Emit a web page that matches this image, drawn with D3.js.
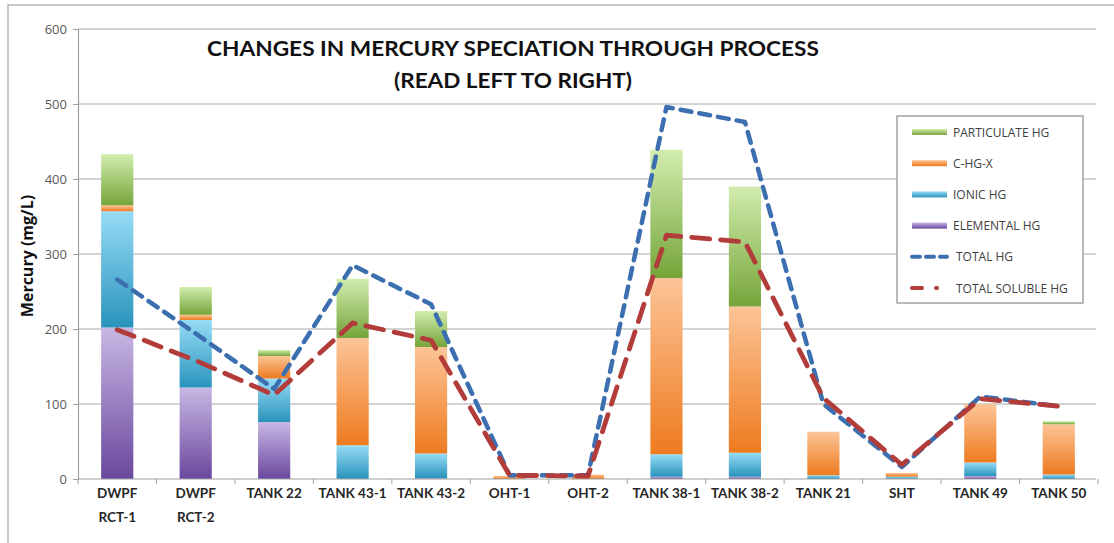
<!DOCTYPE html>
<html>
<head>
<meta charset="utf-8">
<script src="https://cdn.jsdelivr.net/npm/d3@7"></script>
<style>
    body { margin: 0; background: #fff; }
    svg { display: block; font-family: Lato, 'Open Sans', sans-serif; }
</style>
</head>
<body>
<div class="chart"></div>
<script>
const categories = ['DWPF\nRCT-1', 'DWPF\nRCT-2', 'TANK 22', 'TANK 43-1', 'TANK 43-2', 'OHT-1', 'OHT-2',
    'TANK 38-1', 'TANK 38-2', 'TANK 21', 'SHT', 'TANK 49', 'TANK 50'];
const elementalHg = [202, 122, 76, 0, 1, 0, 0, 3, 3, 0, 0, 4, 0];
const ionicHg = [155, 90, 58, 45, 33, 0, 0, 30, 32, 5, 3, 18, 6];
const cHgX = [8, 7, 30, 143, 142, 4, 6, 235, 195, 58, 5, 78, 67];
const particulateHg = [68, 37, 8, 79, 48, 0, 0, 171, 160, 0, 0, 0, 4];
const totalHg = [266, 194, 120, 285, 233, 5, 5, 496, 476, 100, 16, 110, 97];
const totalSolubleHg = [199, 158, 112, 208, 185, 5, 4, 325, 316, 108, 19, 107, 97];
const yTicks = [0, 100, 200, 300, 400, 500, 600];

const series = [
    { key: 'ELEMENTAL HG', values: elementalHg, top: '#c8b7e4', bottom: '#6a479d' },
    { key: 'IONIC HG', values: ionicHg, top: '#96dcf7', bottom: '#2a93bb' },
    { key: 'C-HG-X', values: cHgX, top: '#fcc497', bottom: '#ee7b1f' },
    { key: 'PARTICULATE HG', values: particulateHg, top: '#d2edae', bottom: '#76a53a' },
];

const w = 1114;
const h = 543;
const margin = { top: 29, right: 16, bottom: 64, left: 78 };

const svg = d3.select('.chart').append('svg').attr('width', w).attr('height', h);

// frame of the original picture
svg.append('rect')
    .attr('x', 8).attr('y', 5).attr('width', w + 20).attr('height', h + 20)
    .attr('fill', 'none').attr('stroke', '#a6a6a6').attr('stroke-width', 1.2);

const defs = svg.append('defs');
series.forEach((s, i) => {
    const g = defs.append('linearGradient')
        .attr('id', `grad${i}`)
        .attr('x1', 0).attr('y1', 0).attr('x2', 0).attr('y2', 1);
    g.append('stop').attr('offset', '0%').attr('stop-color', s.top);
    g.append('stop').attr('offset', '100%').attr('stop-color', s.bottom);
});

const x = d3.scaleBand()
    .domain(categories)
    .range([margin.left, w - margin.right])
    .paddingInner(0.59)
    .paddingOuter(0.295);

const xCenter = d3.scalePoint()
    .domain(categories)
    .range([margin.left, w - margin.right])
    .padding(0.5);

const y = d3.scaleLinear().domain([0, 600]).range([h - margin.bottom, margin.top]);

// gridlines
svg.append('g')
    .selectAll('line')
    .data(yTicks.filter((d) => d > 0))
    .enter()
    .append('line')
    .attr('x1', margin.left)
    .attr('x2', w - margin.right - 2)
    .attr('y1', (d) => y(d))
    .attr('y2', (d) => y(d))
    .attr('stroke', '#c4c4c4')
    .attr('stroke-width', 1.3);

// y axis
const yAxis = svg.append('g')
    .attr('transform', `translate(${margin.left},0)`)
    .call(d3.axisLeft(y).tickValues(yTicks).tickSize(5).tickPadding(6));
yAxis.select('.domain').attr('stroke', '#a0a0a0').attr('stroke-width', 1.2);
yAxis.selectAll('.tick line').attr('stroke', '#a0a0a0');
yAxis.selectAll('text')
    .attr('fill', '#595959')
    .style('font-size', '13px')
    .style('font-family', "'Open Sans', sans-serif");

// stacked bars
const stackData = categories.map((c, i) => {
    const row = { cat: c };
    series.forEach((s) => { row[s.key] = s.values[i]; });
    return row;
});
const stack = d3.stack().keys(series.map((s) => s.key))(stackData);

svg.append('g')
    .selectAll('g')
    .data(stack)
    .enter()
    .append('g')
    .attr('fill', (d, i) => `url(#grad${i})`)
    .selectAll('rect')
    .data((d) => d)
    .enter()
    .append('rect')
    .attr('x', (d) => x(d.data.cat))
    .attr('width', x.bandwidth())
    .attr('y', (d) => y(d[1]))
    .attr('height', (d) => y(d[0]) - y(d[1]));

// x axis
const xAxisY = y(0);
const xg = svg.append('g');
xg.append('line')
    .attr('x1', margin.left).attr('x2', w - margin.right - 2)
    .attr('y1', xAxisY).attr('y2', xAxisY)
    .attr('stroke', '#a0a0a0').attr('stroke-width', 1.2);
const step = (w - margin.right - margin.left) / categories.length;
xg.selectAll('.xtick')
    .data(d3.range(categories.length + 1))
    .enter()
    .append('line')
    .attr('x1', (d) => margin.left + d * step)
    .attr('x2', (d) => margin.left + d * step)
    .attr('y1', xAxisY)
    .attr('y2', xAxisY + 5)
    .attr('stroke', '#a0a0a0');

xg.selectAll('.xlabel')
    .data(categories)
    .enter()
    .append('text')
    .attr('text-anchor', 'middle')
    .attr('fill', '#262626')
    .style('font-size', '13.5px')
    .style('font-weight', 'bold')
    .attr('transform', (d) => `translate(${xCenter(d)},${xAxisY + 19})`)
    .each(function (d) {
        d.split('\n').forEach((part, j) => {
            d3.select(this).append('tspan')
                .attr('x', 0)
                .attr('y', j * 24)
                .text(part);
        });
    });

// lines
const line = d3.line()
    .x((d, i) => xCenter(categories[i]))
    .y((d) => y(d));

svg.append('path')
    .datum(totalHg)
    .attr('d', line)
    .attr('fill', 'none')
    .attr('stroke', '#3c6fb0')
    .attr('stroke-width', 4.5)
    .attr('stroke-dasharray', '11,8')
    .attr('stroke-linecap', 'round')
    .attr('stroke-linejoin', 'round');

svg.append('path')
    .datum(totalSolubleHg)
    .attr('d', line)
    .attr('fill', 'none')
    .attr('stroke', '#b23c3a')
    .attr('stroke-width', 4.8)
    .attr('stroke-dasharray', '18,11')
    .attr('stroke-linecap', 'round')
    .attr('stroke-linejoin', 'round');

// title
svg.append('text')
    .attr('x', 513).attr('y', 56)
    .attr('text-anchor', 'middle')
    .attr('fill', '#111')
    .style('font-size', '21px')
    .style('font-weight', 'bold')
    .attr('textLength', 612)
    .attr('lengthAdjust', 'spacingAndGlyphs')
    .text('CHANGES IN MERCURY SPECIATION THROUGH PROCESS');
svg.append('text')
    .attr('x', 513).attr('y', 88)
    .attr('text-anchor', 'middle')
    .attr('fill', '#111')
    .style('font-size', '21px')
    .style('font-weight', 'bold')
    .attr('textLength', 238)
    .attr('lengthAdjust', 'spacingAndGlyphs')
    .text('(READ LEFT TO RIGHT)');

// y label
svg.append('text')
    .attr('transform', `translate(33,${y(300) + 2}) rotate(-90)`)
    .attr('text-anchor', 'middle')
    .attr('fill', '#111')
    .style('font-size', '16px')
    .style('font-weight', 'bold')
    .style('font-family', "'Open Sans', sans-serif")
    .text('Mercury (mg/L)');

// legend
const legend = svg.append('g').attr('transform', 'translate(897,116)');
legend.append('rect')
    .attr('width', 186).attr('height', 187)
    .attr('fill', '#fff').attr('stroke', '#8c8c8c').attr('stroke-width', 1.2);

const legendItems = [
    { label: 'PARTICULATE HG', type: 'bar', idx: 3 },
    { label: 'C-HG-X', type: 'bar', idx: 2 },
    { label: 'IONIC HG', type: 'bar', idx: 1 },
    { label: 'ELEMENTAL HG', type: 'bar', idx: 0 },
    { label: 'TOTAL HG', type: 'line', color: '#3c6fb0', dash: '8,6' },
    { label: 'TOTAL SOLUBLE HG', type: 'line', color: '#b23c3a', dash: '10,14,1,20' },
];

const li = legend.selectAll('.legend')
    .data(legendItems)
    .enter()
    .append('g')
    .attr('class', 'legend')
    .attr('transform', (d, i) => `translate(0,${16 + i * 31.2})`);

li.filter((d) => d.type === 'bar')
    .append('rect')
    .attr('x', 15).attr('y', -3)
    .attr('width', 35).attr('height', 6)
    .attr('fill', (d) => `url(#grad${d.idx})`);

li.filter((d) => d.type === 'line')
    .append('line')
    .attr('x1', 15).attr('x2', 50)
    .attr('y1', 0).attr('y2', 0)
    .attr('stroke', (d) => d.color)
    .attr('stroke-width', 4)
    .attr('stroke-linecap', 'round')
    .attr('stroke-dasharray', (d) => d.dash);

li.append('text')
    .attr('x', (d) => (d.type === 'bar' ? 56 : 59))
    .attr('y', 4.5)
    .attr('fill', '#404040')
    .style('font-size', '12px')
    .style('font-family', "'Open Sans', sans-serif")
    .text((d) => d.label);
</script>
</body>
</html>
